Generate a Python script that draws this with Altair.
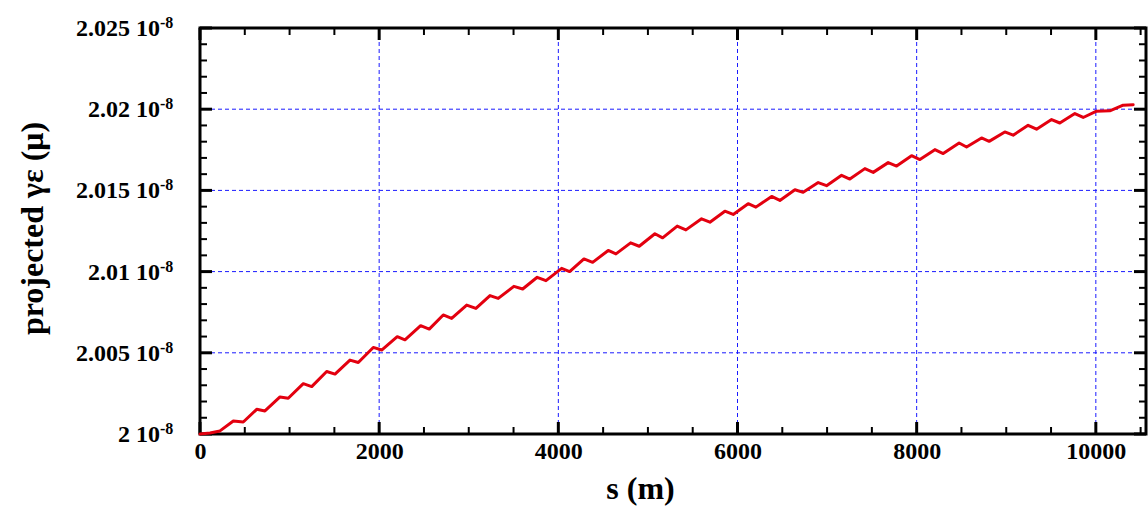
import altair as alt
import pandas as pd

# ---- data (y in units of 1e-8) ----
s_m = [0, 112, 223, 372, 483, 633, 725, 893, 985, 1153, 1247, 1414, 1507, 1674, 1767,
       1934, 2028, 2202, 2288, 2463, 2559, 2715, 2809, 2977, 3080, 3237, 3329, 3504, 3602,
       3764, 3862, 4037, 4126, 4286, 4383, 4557, 4643, 4807, 4903, 5078, 5164, 5327, 5424,
       5599, 5692, 5859, 5952, 6119, 6205, 6381, 6473, 6641, 6733, 6901, 6994, 7162, 7254,
       7422, 7515, 7682, 7776, 7943, 8036, 8203, 8296, 8474, 8557, 8724, 8809, 8984, 9077,
       9244, 9338, 9506, 9598, 9766, 9859, 10008, 10156, 10305, 10417]
emit = [2.0, 2.00006, 2.00019, 2.00080, 2.00074, 2.00152, 2.00142, 2.00228, 2.00220,
        2.00310, 2.00292, 2.00385, 2.00369, 2.00455, 2.00440, 2.00533, 2.00517, 2.00599,
        2.00580, 2.00667, 2.00646, 2.00733, 2.00712, 2.00794, 2.00773, 2.00852, 2.00835,
        2.00909, 2.00893, 2.00965, 2.00944, 2.01020, 2.01000, 2.01078, 2.01057, 2.01130,
        2.01109, 2.01177, 2.01156, 2.01233, 2.01208, 2.01280, 2.01257, 2.01325, 2.01304,
        2.01372, 2.01352, 2.01418, 2.01397, 2.01463, 2.01438, 2.01504, 2.01488, 2.01548,
        2.01529, 2.01593, 2.01570, 2.01634, 2.01611, 2.01671, 2.01650, 2.01714, 2.01690,
        2.01751, 2.01727, 2.01792, 2.01767, 2.01823, 2.01802, 2.01860, 2.01840, 2.01901,
        2.01877, 2.01936, 2.01915, 2.01973, 2.01949, 2.01988, 2.01990, 2.02025, 2.02027]

x_major = [0, 2000, 4000, 6000, 8000, 10000]
x_minor = [500, 1000, 1500, 2500, 3000, 3500, 4500, 5000, 5500, 6500, 7000, 7500,
           8500, 9000, 9500, 10500]
x_grid = [2000, 4000, 6000, 8000, 10000]
y_major = [2.0, 2.005, 2.01, 2.015, 2.02, 2.025]
y_labels = ["2 10", "2.005 10", "2.01 10", "2.015 10", "2.02 10", "2.025 10"]
y_exponent = "-8"
y_minor = [2.001, 2.002, 2.003, 2.004, 2.006, 2.007, 2.008, 2.009, 2.011, 2.012, 2.013,
           2.014, 2.016, 2.017, 2.018, 2.019, 2.021, 2.022, 2.023, 2.024]
y_grid = [2.005, 2.01, 2.015, 2.02]

W, H = 946, 406
FONT = "Liberation Serif"
xscale = alt.Scale(domain=[0, 10560], nice=False, zero=False)
yscale = alt.Scale(domain=[2.0, 2.025], nice=False, zero=False)

x_axis = alt.Axis(values=x_major, format="d", grid=False, ticks=False, domain=False,
                  labelFont=FONT, labelFontSize=24, labelFontWeight="bold",
                  labelColor="black", labelPadding=5, labelFlush=False,
                  title="s (m)", titleFont=FONT, titleFontSize=32, titleFontWeight="bold",
                  titleColor="black", titleX=440, titleY=64, titleBaseline="alphabetic")
y_axis = alt.Axis(values=y_major, labels=False, grid=False, ticks=False, domain=False,
                  title="projected γε (μ)", titleFont=FONT, titleFontSize=32,
                  titleFontWeight="bold", titleColor="black", titleAngle=-90,
                  titleX=-168, titleY=200, titleBaseline="middle")

line_df = pd.DataFrame({"s": s_m, "e": emit})
ylab_df = pd.DataFrame({"v": y_major, "lab": y_labels, "exp": [y_exponent] * len(y_major)})


def vdf(vals):
    return pd.DataFrame({"v": vals})


def X(field):
    return alt.X(field, scale=xscale, axis=x_axis)


def Y(field):
    return alt.Y(field, scale=yscale, axis=y_axis)


grid_color = "#1a1aff"
vgrid = alt.Chart(vdf(x_grid)).mark_rule(color=grid_color, strokeDash=[4, 3], strokeWidth=1).encode(
    x=X("v:Q"))
hgrid = alt.Chart(vdf(y_grid)).mark_rule(color=grid_color, strokeDash=[4, 3], strokeWidth=1).encode(
    y=Y("v:Q"))


def xticks(vals, length, width):
    base = alt.Chart(vdf(vals)).mark_rule(color="black", strokeWidth=width)
    bot = base.encode(x=X("v:Q"), y=alt.value(H), y2=alt.value(H - length))
    top = base.encode(x=X("v:Q"), y=alt.value(0), y2=alt.value(length))
    return [bot, top]


def yticks(vals, length, width):
    base = alt.Chart(vdf(vals)).mark_rule(color="black", strokeWidth=width)
    left = base.encode(y=Y("v:Q"), x=alt.value(0), x2=alt.value(length))
    right = base.encode(y=Y("v:Q"), x=alt.value(W), x2=alt.value(W - length))
    return [left, right]


ylab_main = alt.Chart(ylab_df).mark_text(
    font=FONT, fontSize=24, fontWeight="bold", color="black", align="right",
    baseline="alphabetic", dy=8).encode(y=Y("v:Q"), x=alt.value(-40), text="lab:N")
ylab_exp = alt.Chart(ylab_df).mark_text(
    font=FONT, fontSize=16, fontWeight="bold", color="black", align="left",
    baseline="alphabetic", dy=0).encode(y=Y("v:Q"), x=alt.value(-40), text="exp:N")

line = alt.Chart(line_df).mark_line(color="#e3000f", strokeWidth=3, strokeJoin="round",
                                    strokeCap="round").encode(
    x=X("s:Q"), y=Y("e:Q"))

layers = [vgrid, hgrid] + xticks(x_major, 12, 3) + xticks(x_minor, 7, 2) + \
    yticks(y_major, 12, 3) + yticks(y_minor, 7, 2) + [ylab_main, ylab_exp, line]

chart = alt.layer(*layers).properties(
    width=W, height=H,
    autosize=alt.AutoSizeParams(type="none"),
    padding={"left": 200, "top": 28, "right": 2, "bottom": 76},
    background="white",
).configure_view(stroke="black", strokeWidth=3)

chart.save("out.html", embed_options={"renderer": "svg", "actions": False})
